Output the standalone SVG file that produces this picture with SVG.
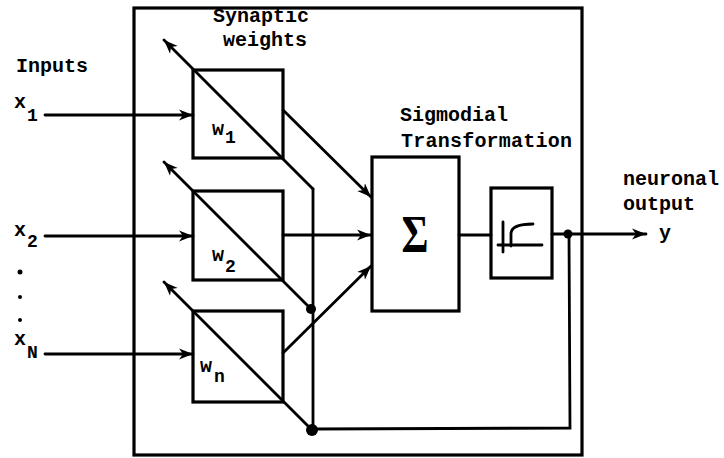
<svg xmlns="http://www.w3.org/2000/svg" width="724" height="458" viewBox="0 0 724 458">
<style>
.box{fill:none;stroke:#000;stroke-width:3.2}
.ln{fill:none;stroke:#000;stroke-width:2.8;stroke-linecap:round}
.arr{marker-end:url(#ah)}
.t{font-family:"Liberation Mono","DejaVu Sans Mono",monospace;font-weight:bold;font-size:20px;fill:#000}
.s{font-size:18px}
.dot{fill:#000}
</style>
<defs>
<marker id="ah" markerUnits="userSpaceOnUse" markerWidth="16" markerHeight="12" refX="14" refY="6" orient="auto">
<path d="M0,0.5 L14,6 L0,11.5 L4,6 z" fill="#000"/>
</marker>
</defs>
<rect width="724" height="458" fill="#fff"/>
<g id="frame"><rect class="box" x="134" y="8" width="448" height="447"/></g>
<g id="labels">
<text class="t" x="213" y="22">Synaptic</text>
<text class="t" x="223" y="46">weights</text>
<text class="t" x="16" y="72">Inputs</text>
<text class="t" x="14" y="108">x</text><text class="t s" x="27" y="121">1</text>
<text class="t" x="14" y="236">x</text><text class="t s" x="27" y="247">2</text>
<circle class="dot" cx="20" cy="272" r="2.5"/>
<circle class="dot" cx="20" cy="297" r="2"/>
<circle class="dot" cx="20" cy="320" r="2"/>
<text class="t" x="14" y="345">x</text><text class="t s" x="27" y="358">N</text>
<text class="t" x="400" y="121">Sigmodial</text>
<text class="t" x="401" y="147" textLength="171">Transformation</text>
<text class="t" x="623" y="185">neuronal</text>
<text class="t" x="623" y="210">output</text>
<text class="t" x="659" y="239">y</text>
</g>
<g id="w1"><rect class="box" x="193" y="70" width="90" height="88"/>
<text class="t" x="212" y="135">w</text><text class="t s" x="225" y="143">1</text></g>
<g id="w2"><rect class="box" x="193" y="191" width="90" height="89"/>
<text class="t" x="212" y="261">w</text><text class="t s" x="225" y="272">2</text></g>
<g id="wn"><rect class="box" x="193" y="311" width="90" height="91"/>
<text class="t" x="200" y="372">w</text><text class="t s" x="214" y="382">n</text></g>
<g id="sum"><rect class="box" x="372" y="157" width="87" height="154"/>
<text x="415" y="252" text-anchor="middle" textLength="27" lengthAdjust="spacingAndGlyphs" style="font-family:'Liberation Serif',serif;font-size:52px;font-weight:bold">Σ</text></g>
<g id="sigmoid"><rect class="box" x="491" y="188" width="61" height="90"/>
<path class="ln" d="M503,222 V252 M498,245 H542 M511,246 V233 Q512,224 533,224"/></g>
<g id="connectors">
<line class="ln arr" x1="45" y1="115" x2="193" y2="115"/>
<line class="ln arr" x1="45" y1="236" x2="193" y2="236"/>
<line class="ln arr" x1="45" y1="354" x2="193" y2="354"/>
<line class="ln arr" x1="313" y1="189" x2="164" y2="40"/>
<line class="ln arr" x1="311" y1="309" x2="164" y2="162"/>
<line class="ln arr" x1="312" y1="430" x2="164" y2="282"/>
<line class="ln" x1="313" y1="189" x2="313" y2="430"/>
<line class="ln arr" x1="283" y1="110" x2="371" y2="197"/>
<line class="ln arr" x1="283" y1="235" x2="371" y2="235"/>
<line class="ln arr" x1="283" y1="353" x2="371" y2="266"/>
<line class="ln" x1="459" y1="235" x2="491" y2="235"/>
<line class="ln arr" x1="552" y1="234" x2="646" y2="234"/>
<polyline class="ln" points="313,429 570,428 569,233"/>
<circle class="dot" cx="311" cy="309" r="5"/>
<circle class="dot" cx="312" cy="430" r="6"/>
<circle class="dot" cx="568" cy="234" r="4.5"/>
</g>
</svg>
